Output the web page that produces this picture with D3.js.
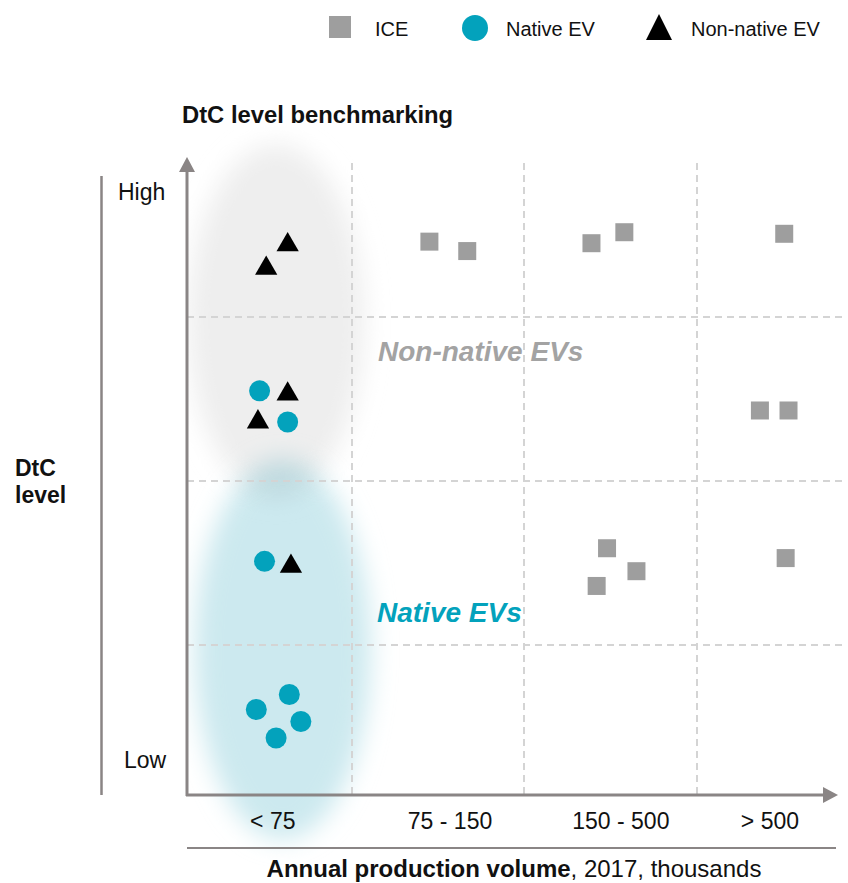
<!DOCTYPE html>
<html>
<head>
<meta charset="utf-8">
<script src="https://cdn.jsdelivr.net/npm/d3@7"></script>
<style>
  body { margin: 0; background: #fff; }
  svg { display: block; font-family: "Liberation Sans", Arial, sans-serif; }
</style>
</head>
<body>
<div id="chart"></div>
<script>

// categories on the x axis (annual production volume, thousands)
var volumeLabels = ["< 75", "75 - 150", "150 - 500", "> 500"];
var levelLabels = ["High", "Low"];

// points, in column / row units (column 0 = "< 75", row 0 = lowest DtC level)
var iceX = [1.45, 1.67, 2.39, 2.58, 3.61, 3.44, 3.64, 2.48, 2.65, 2.42, 3.62];
var iceY = [3.48, 3.42, 3.47, 3.54, 3.53, 2.43, 2.43, 1.59, 1.45, 1.36, 1.53];

var nativeX = [0.44, 0.61, 0.47, 0.62, 0.42, 0.69, 0.54];
var nativeY = [2.55, 2.36, 1.51, 0.67, 0.57, 0.49, 0.38];

var nonNativeX = [0.61, 0.48, 0.61, 0.43, 0.63];
var nonNativeY = [3.46, 3.31, 2.53, 2.36, 1.48];

var legendItems = ["ICE", "Native EV", "Non-native EV"];

var W = 848, H = 883;
var axisColor = "#8a8585",
    iceColor = "#9e9e9e",
    nativeColor = "#03a2bc",
    gridColor = "#d4d4d4";

var svg = d3.select("#chart").append("svg")
    .attr("width", W)
    .attr("height", H);

// column / row borders
var x = d3.scaleLinear()
    .domain([0, 1, 2, 3, 4])
    .range([187, 352, 524, 697, 840]);

var y = d3.scaleLinear()
    .domain([0, 1, 2, 3, 4])
    .range([795, 645, 481, 317, 160]);

var defs = svg.append("defs");
defs.append("filter")
    .attr("id", "blur")
    .attr("x", "-50%").attr("y", "-50%")
    .attr("width", "200%").attr("height", "200%")
    .append("feGaussianBlur")
    .attr("stdDeviation", 12);

// shading stays right of the y axis
defs.append("clipPath")
    .attr("id", "plotClip")
    .append("rect")
    .attr("x", x(0)).attr("y", 0)
    .attr("width", W - x(0)).attr("height", H);

var shade = svg.append("g")
    .attr("clip-path", "url(#plotClip)");

// shaded clusters
shade.append("ellipse")
    .attr("cx", x(0.58)).attr("cy", y(0.97))
    .attr("rx", 88).attr("ry", 190)
    .attr("fill", "#cce9ef")
    .attr("filter", "url(#blur)");

shade.append("ellipse")
    .attr("cx", x(0.54)).attr("cy", y(2.98))
    .attr("rx", 88).attr("ry", 176)
    .attr("fill", "#eeeeee")
    .style("mix-blend-mode", "multiply")
    .attr("filter", "url(#blur)");

// dashed grid
svg.append("g")
    .selectAll("line")
    .data([1, 2, 3])
    .enter().append("line")
    .attr("x1", function(d) { return x(d); })
    .attr("x2", function(d) { return x(d); })
    .attr("y1", 163)
    .attr("y2", y(0))
    .attr("stroke", gridColor)
    .attr("stroke-width", 2)
    .attr("stroke-dasharray", "7,5");

svg.append("g")
    .selectAll("line")
    .data([1, 2, 3])
    .enter().append("line")
    .attr("x1", x(0))
    .attr("x2", 842)
    .attr("y1", function(d) { return y(d); })
    .attr("y2", function(d) { return y(d); })
    .attr("stroke", gridColor)
    .attr("stroke-width", 2)
    .attr("stroke-dasharray", "7,5");

// axes with arrow heads
svg.append("line")
    .attr("x1", x(0)).attr("x2", x(0))
    .attr("y1", y(0) + 1).attr("y2", 170)
    .attr("stroke", axisColor).attr("stroke-width", 3);
svg.append("path")
    .attr("d", "M" + x(0) + ",157 l-8,15 h16 z")
    .attr("fill", axisColor);

svg.append("line")
    .attr("x1", x(0) - 1).attr("x2", 826)
    .attr("y1", y(0)).attr("y2", y(0))
    .attr("stroke", axisColor).attr("stroke-width", 3);
svg.append("path")
    .attr("d", "M838," + y(0) + " l-15,-8 v16 z")
    .attr("fill", axisColor);

// brackets for axis titles
svg.append("line")
    .attr("x1", 101.5).attr("x2", 101.5)
    .attr("y1", 176).attr("y2", 795)
    .attr("stroke", axisColor).attr("stroke-width", 2.5);
svg.append("line")
    .attr("x1", 187).attr("x2", 836)
    .attr("y1", 848).attr("y2", 848)
    .attr("stroke", axisColor).attr("stroke-width", 2);

// x tick labels
var labelAt = [0.52, 0.57, 0.56, 0.51];
svg.append("g")
    .selectAll("text")
    .data(volumeLabels)
    .enter().append("text")
    .attr("x", function(d, i) { return x(i + labelAt[i]); })
    .attr("y", 829)
    .attr("text-anchor", "middle")
    .attr("font-size", 23)
    .attr("fill", "#111")
    .text(function(d) { return d; });

// y labels
svg.append("text")
    .attr("x", 118).attr("y", 200)
    .attr("font-size", 23).attr("fill", "#111")
    .text(levelLabels[0]);
svg.append("text")
    .attr("x", 124).attr("y", 768)
    .attr("font-size", 23).attr("fill", "#111")
    .text(levelLabels[1]);

var yTitle = svg.append("text")
    .attr("x", 15).attr("y", 476)
    .attr("font-size", 23).attr("font-weight", "bold").attr("fill", "#111");
yTitle.append("tspan").attr("x", 15).text("DtC");
yTitle.append("tspan").attr("x", 15).attr("dy", 27).text("level");

var xTitle = svg.append("text")
    .attr("x", 514).attr("y", 877)
    .attr("text-anchor", "middle")
    .attr("font-size", 24).attr("fill", "#111");
xTitle.append("tspan").attr("font-weight", "bold").text("Annual production volume");
xTitle.append("tspan").text(", 2017, thousands");

svg.append("text")
    .attr("x", 182).attr("y", 123)
    .attr("font-size", 23.8).attr("font-weight", "bold").attr("fill", "#111")
    .text("DtC level benchmarking");

// cluster labels
svg.append("text")
    .attr("x", 378).attr("y", 361)
    .attr("font-size", 28).attr("font-weight", "bold").attr("font-style", "italic")
    .attr("fill", "#a3a3a3")
    .text("Non-native EVs");
svg.append("text")
    .attr("x", 377).attr("y", 622)
    .attr("font-size", 28).attr("font-weight", "bold").attr("font-style", "italic")
    .attr("fill", nativeColor)
    .text("Native EVs");

// markers
var square = d3.symbol().type(d3.symbolSquare).size(324);
var circle = d3.symbol().type(d3.symbolCircle).size(346);
var triangle = d3.symbol().type(d3.symbolTriangle).size(215);

svg.append("g")
    .selectAll("path")
    .data(d3.range(iceX.length))
    .enter().append("path")
    .attr("d", square)
    .attr("transform", function(i) { return "translate(" + x(iceX[i]) + "," + y(iceY[i]) + ")"; })
    .attr("fill", iceColor);

svg.append("g")
    .selectAll("path")
    .data(d3.range(nativeX.length))
    .enter().append("path")
    .attr("d", circle)
    .attr("transform", function(i) { return "translate(" + x(nativeX[i]) + "," + y(nativeY[i]) + ")"; })
    .attr("fill", nativeColor);

svg.append("g")
    .selectAll("path")
    .data(d3.range(nonNativeX.length))
    .enter().append("path")
    .attr("d", triangle)
    .attr("transform", function(i) { return "translate(" + x(nonNativeX[i]) + "," + y(nonNativeY[i]) + ")"; })
    .attr("fill", "#000");

// legend
var legend = svg.append("g");
legend.append("rect")
    .attr("x", 329).attr("y", 16)
    .attr("width", 22).attr("height", 22)
    .attr("fill", iceColor);
legend.append("circle")
    .attr("cx", 475).attr("cy", 28).attr("r", 13)
    .attr("fill", nativeColor);
legend.append("path")
    .attr("d", "M659,14 L672,40 L646,40 Z")
    .attr("fill", "#000");

var legendTextX = [375, 506, 691];
legend.selectAll("text")
    .data(legendItems)
    .enter().append("text")
    .attr("x", function(d, i) { return legendTextX[i]; })
    .attr("y", 36)
    .attr("font-size", 20)
    .attr("fill", "#111")
    .text(function(d) { return d; });

</script>
</body>
</html>
